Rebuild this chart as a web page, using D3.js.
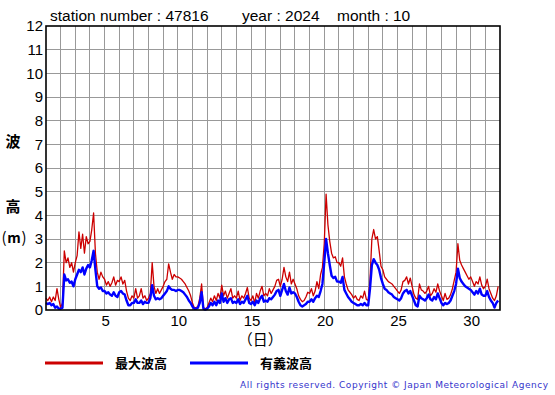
<!DOCTYPE html>
<html>
<head>
<meta charset="utf-8">
<script src="https://cdn.jsdelivr.net/npm/d3@7"></script>
<style>
  body { margin: 0; background: #fff; }
  svg { display: block; }
</style>
</head>
<body>
<svg id="chart" width="555" height="395"></svg>
<script>
// station / period shown in the title
var station = "47816", year = "2024", month = "10";

// 3-hourly values, one row per day (00,03,06,...,21h), metres
var maxWave = [
  0.5, 0.4, 0.55, 0.35, 0.55, 0.4, 0.9, 0.45,
  0.1, 0.3, 2.5, 2.0, 2.2, 1.8, 2.0, 1.6,
  2.0, 2.3, 3.3, 2.6, 3.2, 2.4, 3.1, 2.8,
  2.9, 3.4, 4.1, 2.4, 1.6, 1.3, 1.6, 1.4,
  1.3, 1.05, 1.2, 1.0, 1.15, 1.4, 1.05, 1.25,
  1.2, 1.4, 1.1, 1.25, 0.8, 0.5, 0.4, 0.6,
  0.5, 0.9, 0.5, 0.6, 0.9, 0.5, 0.6, 0.4,
  0.5, 0.7, 2.0, 1.0, 0.7, 0.9, 0.7, 0.85,
  1.0, 1.2, 1.3, 1.95, 1.6, 1.3, 1.5, 1.4,
  1.4, 1.35, 1.3, 1.2, 1.1, 0.95, 0.8, 0.6,
  0.3, 0.1, 0.1, 0.15, 0.5, 1.1, 0.1, 0.05,
  0.1, 0.3, 0.5, 0.35, 0.6, 0.4, 0.7, 0.5,
  1.05, 0.6, 0.8, 0.5, 0.7, 0.9, 0.5, 0.6,
  0.5, 0.8, 0.4, 0.6, 0.5, 0.7, 0.95, 0.5,
  0.4, 0.6, 0.3, 0.7, 0.5, 0.8, 1.0, 0.6,
  0.7, 0.6, 0.9, 0.7, 0.85, 1.0, 1.25, 1.3,
  1.0, 1.3, 1.8, 1.4, 1.2, 1.6, 1.1, 1.3,
  1.1, 0.9, 0.6, 0.45, 0.35, 0.4, 0.55, 0.75,
  0.7, 0.9, 0.6, 0.8, 1.2, 0.9, 1.5, 1.8,
  2.8, 4.9, 3.6, 2.9, 2.4, 2.2, 2.25, 2.0,
  2.0, 1.85, 2.2, 1.4, 1.1, 0.85, 0.75, 0.65,
  0.5, 0.6, 0.45, 0.4, 0.6, 0.5, 0.8, 0.45,
  0.4, 1.3, 3.0, 3.4, 3.0, 3.1, 2.5, 1.85,
  1.7, 1.4, 1.3, 1.2, 1.15, 1.1, 1.0, 0.9,
  0.8, 0.7, 0.85, 1.2, 1.25, 1.4, 1.1, 1.35,
  1.0, 0.65, 0.5, 0.45, 1.1, 0.85, 0.8, 0.7,
  0.8, 1.0, 0.6, 0.7, 0.9, 0.75, 1.1, 0.8,
  0.6, 0.4, 0.7, 0.45, 0.5, 0.65, 0.9, 1.25,
  1.6, 2.8, 2.1, 1.9, 1.75, 1.6, 1.45, 1.3,
  1.4, 1.2, 1.0, 1.2, 1.1, 1.4, 1.05, 0.9,
  1.0, 1.3, 0.9, 0.7, 0.5, 0.4, 0.6, 1.0
];

var sigWave = [
  0.3, 0.25, 0.3, 0.2, 0.25, 0.1, 0.15, 0.05,
  0.05, 0.1, 1.5, 1.25, 1.3, 1.15, 1.2, 1.0,
  1.3, 1.5, 1.7, 1.6, 1.8, 1.5, 1.75, 1.9,
  1.8, 2.1, 2.5, 1.7, 1.0, 0.9, 0.95, 0.8,
  0.8, 0.7, 0.75, 0.65, 0.6, 0.75, 0.6, 0.55,
  0.75, 0.8, 0.7, 0.65, 0.4, 0.2, 0.2, 0.3,
  0.3, 0.45, 0.3, 0.3, 0.4, 0.25, 0.35, 0.3,
  0.3, 0.5, 1.05, 0.6, 0.45, 0.5, 0.45, 0.5,
  0.6, 0.7, 0.8, 1.0, 0.9, 0.85, 0.85, 0.8,
  0.85, 0.85, 0.8, 0.75, 0.65, 0.55, 0.4, 0.3,
  0.15, 0.05, 0.05, 0.1, 0.3, 0.75, 0.05, 0.02,
  0.05, 0.15, 0.3, 0.2, 0.35, 0.2, 0.4, 0.3,
  0.7, 0.35, 0.5, 0.3, 0.45, 0.5, 0.3, 0.35,
  0.3, 0.45, 0.25, 0.35, 0.3, 0.45, 0.6, 0.3,
  0.25, 0.35, 0.2, 0.4, 0.3, 0.5, 0.6, 0.35,
  0.4, 0.35, 0.5, 0.45, 0.55, 0.65, 0.8, 0.85,
  0.6, 0.85, 1.1, 0.8, 0.65, 0.95, 0.7, 0.75,
  0.7, 0.55, 0.35, 0.2, 0.15, 0.2, 0.25, 0.35,
  0.35, 0.45, 0.35, 0.5, 0.6, 0.55, 0.8, 1.1,
  2.0, 3.0, 2.4, 1.9, 1.45, 1.35, 1.4, 1.2,
  1.2, 1.15, 1.4, 0.85, 0.7, 0.55, 0.45, 0.35,
  0.3, 0.25, 0.2, 0.2, 0.25, 0.2, 0.3, 0.2,
  0.2, 0.9, 1.9, 2.15, 2.0, 1.9, 1.7, 1.35,
  1.1, 0.9, 0.85, 0.75, 0.7, 0.65, 0.55, 0.5,
  0.45, 0.4, 0.5, 0.7, 0.8, 0.85, 0.7, 0.8,
  0.6, 0.4, 0.2, 0.15, 0.6, 0.5, 0.45, 0.4,
  0.5, 0.65, 0.45, 0.4, 0.55, 0.45, 0.7, 0.5,
  0.3, 0.2, 0.3, 0.25, 0.3, 0.4, 0.6, 0.8,
  1.1, 1.75, 1.35, 1.2, 1.1, 1.0, 0.95, 0.9,
  0.85, 0.75, 0.65, 0.8, 0.7, 0.9, 0.65, 0.6,
  0.6, 0.8, 0.55, 0.4, 0.3, 0.1, 0.3, 0.4
];

var dayTicks = [5, 10, 15, 20, 25, 30];
var heightTicks = [0, 1, 2, 3, 4, 5, 6, 7, 8, 9, 10, 11, 12];
var legendNames = ["最大波高", "有義波高"];
var lineColors = ["#cc0000", "#0000ff"];

var svg = d3.select("#chart"),
    margin = { top: 26, right: 55, bottom: 85, left: 46 },
    width = 555 - margin.left - margin.right,
    height = 395 - margin.top - margin.bottom,
    g = svg.append("g").attr("transform", "translate(" + margin.left + "," + margin.top + ")");

var latin = "'Liberation Sans', Arial, sans-serif",
    cjk = "'Noto Sans CJK JP', sans-serif";

var x = d3.scaleLinear().domain([1, 32]).range([0, width]);
var y = d3.scaleLinear().domain([0, 12]).range([height, 0]);

// grid
g.append("g")
    .attr("stroke", "#999")
    .attr("stroke-width", 1)
    .attr("shape-rendering", "crispEdges")
    .selectAll("line")
    .data(d3.range(2, 32))
    .enter().append("line")
    .attr("x1", d => x(d)).attr("x2", d => x(d))
    .attr("y1", 0).attr("y2", height);

g.append("g")
    .attr("stroke", "#999")
    .attr("stroke-width", 1)
    .attr("shape-rendering", "crispEdges")
    .selectAll("line")
    .data(heightTicks.slice(1, -1))
    .enter().append("line")
    .attr("x1", 0).attr("x2", width)
    .attr("y1", d => y(d)).attr("y2", d => y(d));

// series
var line = d3.line()
    .x((d, i) => x(1 + i / 8))
    .y(d => y(d));

[maxWave, sigWave].forEach(function (s, k) {
    g.append("path")
        .datum(s)
        .attr("fill", "none")
        .attr("stroke", lineColors[k])
        .attr("stroke-width", k == 0 ? 1.3 : 2.4)
        .attr("stroke-linejoin", "round")
        .attr("d", line);
});

// frame
g.append("rect")
    .attr("x", 0).attr("y", 0)
    .attr("width", width).attr("height", height)
    .attr("fill", "none")
    .attr("stroke", "#000")
    .attr("stroke-width", 1.6);

// axes labels
g.append("g")
    .attr("font-family", latin)
    .attr("font-size", 15)
    .attr("text-anchor", "end")
    .selectAll("text")
    .data(heightTicks)
    .enter().append("text")
    .attr("x", -3)
    .attr("y", d => y(d))
    .attr("dy", "0.36em")
    .text(d => d);

g.append("g")
    .attr("font-family", latin)
    .attr("font-size", 15)
    .attr("text-anchor", "middle")
    .selectAll("text")
    .data(dayTicks)
    .enter().append("text")
    .attr("x", d => x(d) + 1)
    .attr("y", height + 16)
    .text(d => d);

g.append("text")
    .attr("x", x(15.5) + 2)
    .attr("y", height + 35)
    .attr("font-family", cjk)
    .attr("font-size", 15)
    .attr("text-anchor", "middle")
    .text("（日）");

var ylab = svg.append("g")
    .attr("font-family", cjk)
    .attr("font-size", 15)
    .attr("font-weight", "bold")
    .attr("text-anchor", "middle");
ylab.append("text").attr("x", 13).attr("y", 147).text("波");
ylab.append("text").attr("x", 13).attr("y", 212).text("高");
ylab.append("text").attr("x", 4).attr("y", 243).attr("font-weight", "normal").text("(");
ylab.append("text").attr("x", 14).attr("y", 243).attr("font-size", 14).text("m");
ylab.append("text").attr("x", 24).attr("y", 243).attr("font-weight", "normal").text(")");

// title
var title = svg.append("g")
    .attr("font-family", latin)
    .attr("font-size", 15.5);
title.append("text").attr("x", 50).attr("y", 21).text("station number : " + station);
title.append("text").attr("x", 242).attr("y", 21).text("year : " + year);
title.append("text").attr("x", 337).attr("y", 21).text("month : " + month);

// legend
var legend = svg.append("g")
    .selectAll("g")
    .data(legendNames)
    .enter().append("g")
    .attr("transform", (d, i) => "translate(" + (45 + i * 145) + ",363)");

legend.append("line")
    .attr("x1", 0).attr("x2", 58)
    .attr("stroke", (d, i) => lineColors[i])
    .attr("stroke-width", 3);

legend.append("text")
    .attr("x", 70)
    .attr("dy", "0.35em")
    .attr("font-family", cjk)
    .attr("font-size", 13)
    .attr("font-weight", "bold")
    .text(d => d);

svg.append("text")
    .attr("x", 240)
    .attr("y", 388)
    .attr("font-family", "'DejaVu Sans', Verdana, sans-serif")
    .attr("font-size", 9)
    .attr("fill", "#3434cc")
    .attr("textLength", 308)
    .attr("lengthAdjust", "spacing")
    .text("All rights reserved. Copyright © Japan Meteorological Agency");
</script>
</body>
</html>
